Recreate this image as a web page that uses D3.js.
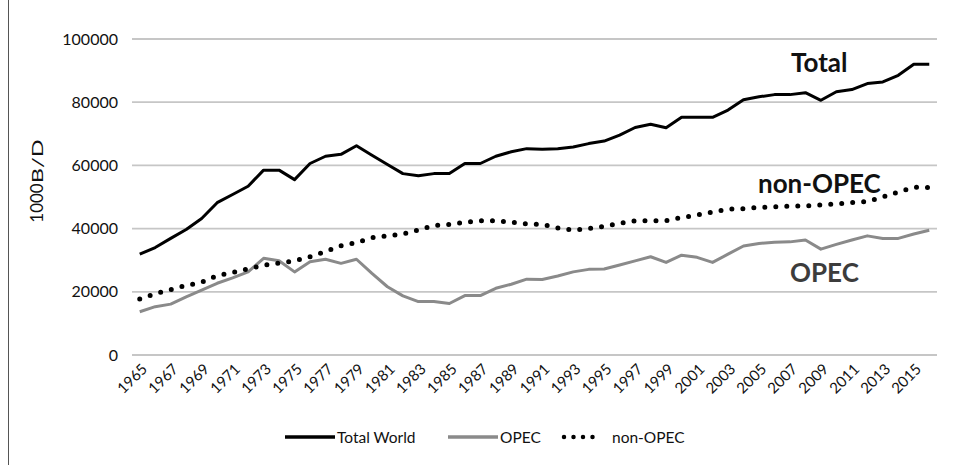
<!DOCTYPE html>
<html>
<head>
<meta charset="utf-8">
<script src="https://cdnjs.cloudflare.com/ajax/libs/d3/7.8.5/d3.min.js"></script>
<style>
  body { margin: 0; background: #fff; }
  svg { display: block; font-family: Lato, "Open Sans", sans-serif; }
</style>
</head>
<body>
<div class="chart"></div>
<script>
// data (thousand barrels per day)
const years = d3.range(1965, 2017);
const yTicks = [0, 20000, 40000, 60000, 80000, 100000];

const totalWorld = [31.9, 34.0, 36.9, 39.7, 43.2, 48.2, 50.8, 53.4, 58.5, 58.5,
  55.5, 60.6, 62.9, 63.5, 66.2, 63.2, 60.3, 57.4, 56.7, 57.4,
  57.4, 60.6, 60.6, 62.9, 64.3, 65.3, 65.1, 65.3, 65.8, 66.9,
  67.7, 69.6, 72.0, 73.0, 71.9, 75.2, 75.2, 75.2, 77.5, 80.8,
  81.7, 82.4, 82.4, 83.0, 80.6, 83.3, 84.0, 85.9, 86.4, 88.5,
  92.0, 92.0].map(d => d * 1000);

const opec = [13.7, 15.3, 16.1, 18.4, 20.5, 22.7, 24.4, 26.3, 30.6, 29.8,
  26.3, 29.5, 30.3, 29.0, 30.3, 25.8, 21.6, 18.7, 16.9, 16.9,
  16.3, 18.8, 18.8, 21.1, 22.4, 24.0, 23.9, 25.0, 26.3, 27.1,
  27.2, 28.5, 29.8, 31.1, 29.3, 31.6, 30.9, 29.3, 31.9, 34.5,
  35.3, 35.7, 35.8, 36.4, 33.5, 35.0, 36.4, 37.7, 36.9, 36.9,
  38.3, 39.5].map(d => d * 1000);

const nonOpec = [17.7, 19.4, 20.7, 22.0, 23.0, 25.1, 26.1, 27.3, 28.4, 29.1,
  29.8, 31.1, 32.7, 34.6, 35.6, 37.1, 37.7, 38.3, 39.6, 41.0,
  41.3, 42.0, 42.5, 42.5, 42.0, 41.5, 41.3, 40.2, 39.5, 40.0,
  40.7, 41.7, 42.5, 42.5, 42.5, 43.5, 44.3, 45.2, 46.2, 46.3,
  46.7, 46.9, 47.1, 47.2, 47.5, 47.8, 48.2, 48.6, 50.0, 51.6,
  53.1, 53.0].map(d => d * 1000);

const seriesNames = ["Total World", "OPEC", "non-OPEC"];

function drawChart() {

  const svgWidth = 956;
  const svgHeight = 465;

  const margin = { top: 39, right: 19, bottom: 110, left: 132 };
  const width = svgWidth - margin.left - margin.right;
  const height = svgHeight - margin.top - margin.bottom;

  const svg = d3.select(".chart")
    .append("svg")
    .attr("width", svgWidth)
    .attr("height", svgHeight);

  // thin frame line on the left of the screenshot
  svg.append("line")
    .attr("x1", 8.5).attr("x2", 8.5)
    .attr("y1", 0).attr("y2", svgHeight)
    .attr("stroke", "#555")
    .attr("stroke-width", 1);

  const chartGroup = svg.append("g")
    .attr("transform", `translate(${margin.left}, ${margin.top})`);

  // scales
  const xScale = d3.scalePoint()
    .domain(years)
    .range([0, width])
    .padding(0.5);

  const yScale = d3.scaleLinear()
    .domain([0, 100000])
    .range([height, 0]);

  // gridlines
  chartGroup.append("g")
    .selectAll("line")
    .data(yTicks)
    .enter()
    .append("line")
    .attr("x1", 0)
    .attr("x2", width)
    .attr("y1", d => yScale(d))
    .attr("y2", d => yScale(d))
    .attr("stroke", "#c6c6c6")
    .attr("stroke-width", 1.8);

  // y axis labels
  const yAxis = d3.axisLeft(yScale)
    .tickValues(yTicks)
    .tickSize(0)
    .tickPadding(14)
    .tickFormat(d3.format("d"));

  chartGroup.append("g")
    .call(yAxis)
    .call(g => g.select(".domain").remove())
    .selectAll("text")
    .attr("font-size", 16)
    .attr("font-family", "Lato, sans-serif")
    .attr("fill", "#111");

  // x axis labels, every other year, rotated
  const xAxis = d3.axisBottom(xScale)
    .tickValues(years.filter(y => (y - 1965) % 2 === 0))
    .tickSize(0)
    .tickPadding(0);

  chartGroup.append("g")
    .attr("transform", `translate(0, ${height})`)
    .call(xAxis)
    .call(g => g.select(".domain").remove())
    .selectAll("text")
    .attr("font-size", 15)
    .attr("font-family", "Lato, sans-serif")
    .attr("fill", "#111")
    .attr("text-anchor", "end")
    .attr("dy", null)
    .attr("transform", "translate(8, 15) rotate(-45)");

  // y axis title
  const yTitle = svg.append("text")
    .attr("transform", "translate(43, 181) rotate(-90)")
    .attr("text-anchor", "middle")
    .attr("font-size", 17)
    .attr("fill", "#111");
  yTitle.append("tspan").text("1000");
  yTitle.append("tspan")
    .attr("font-size", 15)
    .attr("textLength", 44)
    .attr("lengthAdjust", "spacingAndGlyphs")
    .text("B/D");

  // line generator
  const line = d3.line()
    .x((d, i) => xScale(years[i]))
    .y(d => yScale(d));

  chartGroup.append("path")
    .attr("d", line(opec))
    .attr("fill", "none")
    .attr("stroke", "#8a8a8a")
    .attr("stroke-width", 3)
    .attr("stroke-linejoin", "round");

  chartGroup.append("path")
    .attr("d", line(nonOpec))
    .attr("fill", "none")
    .attr("stroke", "#000")
    .attr("stroke-width", 5)
    .attr("stroke-linecap", "round")
    .attr("stroke-dasharray", "0 11");

  chartGroup.append("path")
    .attr("d", line(totalWorld))
    .attr("fill", "none")
    .attr("stroke", "#000")
    .attr("stroke-width", 3)
    .attr("stroke-linejoin", "round");

  // series labels inside the plot
  const notes = [
    { text: "Total", x: 791, y: 72, fill: "#111" },
    { text: "non-OPEC", x: 758, y: 193, fill: "#111" },
    { text: "OPEC", x: 790, y: 282, fill: "#3c3c3c" }
  ];
  svg.selectAll(".note")
    .data(notes)
    .enter()
    .append("text")
    .attr("class", "note")
    .attr("x", d => d.x)
    .attr("y", d => d.y)
    .attr("font-size", 26)
    .attr("font-weight", "bold")
    .attr("fill", d => d.fill)
    .text(d => d.text);

  // legend
  const legendItems = [
    { name: seriesNames[0], x: 285, stroke: "#000", dash: null, w: 3.5, cap: "butt" },
    { name: seriesNames[1], x: 448, stroke: "#8a8a8a", dash: null, w: 3.5, cap: "butt" },
    { name: seriesNames[2], x: 564, stroke: "#000", dash: "0 9.5", w: 4.5, cap: "round" }
  ];
  const legend = svg.append("g");
  const items = legend.selectAll("g")
    .data(legendItems)
    .enter()
    .append("g")
    .attr("transform", d => `translate(${d.x}, 437)`);

  items.append("line")
    .attr("x1", 0)
    .attr("x2", d => d.dash ? 38 : 50)
    .attr("stroke", d => d.stroke)
    .attr("stroke-width", d => d.w)
    .attr("stroke-linecap", d => d.cap)
    .attr("stroke-dasharray", d => d.dash);

  items.append("text")
    .attr("x", d => d.dash ? 48 : 52)
    .attr("y", 5.5)
    .attr("font-size", 15.5)
    .attr("fill", "#111")
    .text(d => d.name);
}

drawChart();
</script>
</body>
</html>
